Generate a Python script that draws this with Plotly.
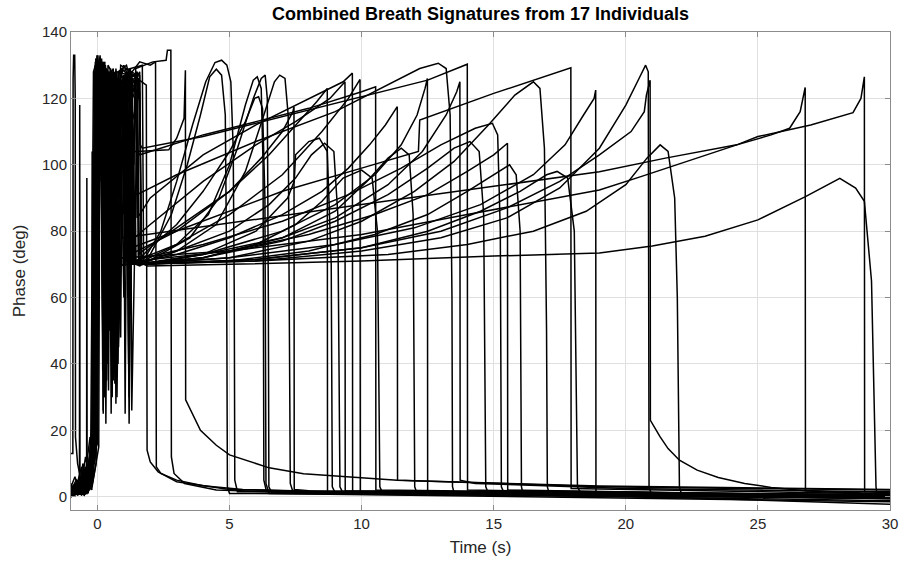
import plotly.graph_objects as go

# ---- Data (time s, phase deg) ----
# onset (chaotic start) segments, one per breath trace
onsets = [
    [(-1,1.5),(-0.8,4),(-0.6,2),(-0.45,9),(-0.3,5),(-0.15,16),(-0.04,22),(0.0,128),(0.1,131),(0.2,108),(0.27,126),(0.4,40),(0.46,124),(0.7,118),(0.78,60),(0.85,120),(1.0,124),(1.2,98),(1.28,127),(1.5,126),(1.85,124)],
    [(-1,0.5),(-0.75,3),(-0.6,1),(-0.4,6),(-0.25,3),(-0.1,14),(0.02,131),(0.1,119),(0.16,132),(0.28,30),(0.35,127),(0.6,122),(0.66,45),(0.72,125),(0.95,118),(1.05,70),(1.12,126),(1.6,131),(2.0,130),(2.2,131)],
    [(-1,1),(-0.8,1),(-0.65,5),(-0.45,2),(-0.3,12),(-0.15,8),(0.0,128),(0.15,122),(0.22,25),(0.3,126),(0.5,116),(0.58,45),(0.66,124),(0.9,120),(1.0,85),(1.08,128),(1.3,126),(1.38,100),(1.45,129),(2.1,131),(2.6,131.5),(2.65,134.5),(2.78,134.5)],
    [(-1,13),(-0.93,13),(-0.92,126),(-0.9,133),(-0.86,133),(-0.84,120),(-0.83,18),(-0.75,10),(-0.6,4),(-0.45,12),(-0.3,6),(-0.2,20),(-0.1,14),(-0.05,132),(0.08,120),(0.15,128),(0.25,36),(0.33,129),(0.55,112),(0.62,124),(0.9,106),(1.0,60),(1.08,120),(1.2,104)],
    [(-1,0),(-0.8,2),(-0.6,1),(-0.45,7),(-0.2,3),(-0.05,30),(0.05,130),(0.18,112),(0.26,128),(0.42,32),(0.5,127),(0.7,96),(0.78,126),(1.0,122),(1.08,75),(1.15,70.5)],
    [(-1,3),(-0.85,6),(-0.7,2),(-0.5,4),(-0.28,18),(-0.12,10),(-0.08,125),(0.02,133),(0.15,100),(0.22,126),(0.35,40),(0.42,122),(0.62,85),(0.72,125),(0.95,120),(1.05,72),(1.15,70)],
    [(-1,0.5),(-0.68,1),(-0.67,118),(-0.66,2),(-0.5,6),(-0.3,2),(-0.15,25),(-0.08,130),(0.1,123),(0.2,65),(0.3,125),(0.5,118),(0.56,30),(0.64,121),(0.85,126),(0.92,70),(1.0,69.5)],
    [(-1,2),(-0.85,0.5),(-0.6,5),(-0.45,1),(-0.35,3),(-0.1,15),(0.0,40),(0.06,129),(0.2,127),(0.27,30),(0.35,125),(0.6,128),(0.75,110),(0.82,128),(1.15,124),(1.25,55),(1.32,118),(1.45,70)],
    [(-1,1),(-0.85,4),(-0.7,2),(-0.55,10),(-0.4,5),(-0.2,12),(-0.02,133),(0.12,125),(0.2,80),(0.27,130),(0.45,122),(0.52,25),(0.6,120),(0.85,118),(1.05,126),(1.15,60),(1.22,124),(1.38,70)],
    [(-1,0),(-0.7,3),(-0.55,1),(-0.41,1),(-0.4,96),(-0.39,3),(-0.2,8),(-0.05,22),(0.1,131),(0.3,128),(0.35,35),(0.44,127),(0.7,119),(0.78,90),(0.86,127),(1.3,125),(1.38,71)],
    [(-1,4),(-0.85,1),(-0.7,6),(-0.6,9),(-0.45,2),(-0.35,4),(-0.25,18),(-0.15,128),(0.0,132),(0.12,108),(0.2,130),(0.38,60),(0.45,120),(0.62,126),(0.72,100),(0.85,72)],
    [(-1,1),(-0.8,3),(-0.6,0.5),(-0.4,7),(-0.21,2),(-0.2,104),(-0.19,4),(-0.05,10),(0.08,126),(0.25,128),(0.32,22),(0.4,124),(0.55,120),(0.62,68),(0.75,122),(0.85,95),(1.1,126),(1.4,122),(1.5,128),(1.56,70)],
    [(-1,0.5),(-0.75,3),(-0.5,0.5),(-0.25,4),(-0.1,30),(-0.05,131),(0.15,127),(0.22,42),(0.3,130),(0.5,115),(0.62,126),(0.8,110),(0.88,130),(1.5,127),(1.58,73)],
    [(-1,2),(-0.8,5),(-0.6,3),(-0.35,9),(-0.15,18),(-0.05,55),(0.0,128),(0.2,118),(0.3,128),(0.45,80),(0.52,125),(0.7,112),(0.78,40),(0.86,100),(1.1,125),(1.2,22),(1.3,110),(1.42,70)],
    [(-1,1),(-0.7,1.5),(-0.5,8),(-0.3,6),(-0.1,11),(0.04,128),(0.16,121),(0.24,131),(0.4,118),(0.48,65),(0.56,125),(0.8,122),(0.88,48),(0.95,120),(1.2,124),(1.28,78)],
    [(-1,0),(-0.8,2),(-0.6,0.5),(-0.4,2),(-0.2,12),(-0.12,124),(0.0,130),(0.14,95),(0.2,128),(0.36,124),(0.45,50),(0.52,122),(0.75,115),(1.0,127),(1.3,120),(1.45,126),(1.5,84)],
    [(-1,3),(-0.7,1),(-0.55,8),(-0.4,7),(-0.15,14),(0.02,90),(0.06,130),(0.25,126),(0.33,62),(0.42,127),(0.62,120),(0.7,28),(0.78,110),(1.0,124),(1.25,118),(1.3,26),(1.4,70)],
    [(-1,0.5),(-0.75,5),(-0.5,2),(-0.22,5),(-0.1,35),(-0.06,132),(0.1,118),(0.18,126),(0.3,88),(0.38,128),(0.55,122),(0.6,35),(0.68,115),(0.9,124),(1.1,120),(1.18,40),(1.25,110),(1.33,70)],
    [(-1,1),(-0.8,2),(-0.6,3),(-0.45,1),(-0.3,11),(-0.12,20),(0.0,129),(0.16,124),(0.26,70),(0.34,129),(0.52,126),(0.62,110),(0.72,128),(1.2,127),(1.4,125),(1.5,104)],
    [(-1,0),(-0.75,1),(-0.55,1),(-0.4,5),(-0.25,6),(-0.05,18),(0.02,127),(0.2,131),(0.3,45),(0.38,120),(0.58,128),(0.68,75),(0.75,121),(1.0,126),(1.08,72)],
    [(-1,2),(-0.6,5),(-0.3,2),(-0.15,10),(-0.02,28),(0.05,129),(0.22,120),(0.3,33),(0.4,118),(0.6,126),(0.7,88),(0.8,122),(1.2,126),(1.5,122),(1.55,72)],
    [(-1,0),(-0.6,2),(-0.45,6),(-0.3,4),(-0.12,20),(-0.02,130),(0.18,128),(0.25,75),(0.35,126),(0.5,122),(0.58,92),(0.66,127),(0.85,124),(1.3,128),(1.36,71)],
    [(-1,1),(-0.7,4),(-0.5,1),(-0.2,8),(0.0,24),(0.05,131),(0.24,126),(0.32,90),(0.4,130),(0.6,127),(0.68,100),(0.78,128),(1.1,130),(1.3,124),(1.36,92)],
    [(-1,3),(-0.6,3.5),(-0.3,7),(-0.08,15),(0.0,125),(0.1,133),(0.3,110),(0.36,50),(0.45,122),(0.62,128),(0.7,60),(0.8,115),(1.1,126),(1.2,30),(1.28,112),(1.6,122),(1.66,70)],
    [(-1,0),(-0.7,2),(-0.4,1),(-0.18,12),(-0.1,128),(0.06,130),(0.15,112),(0.25,127),(0.42,120),(0.5,100),(0.6,128),(0.8,112),(1.2,128),(1.55,126),(1.62,106)],
    [(-1,1),(-0.5,2),(-0.28,9),(-0.08,35),(0.0,130),(0.2,125),(0.28,58),(0.36,124),(0.6,122),(0.7,40),(0.78,118),(1.0,121),(1.08,72)],
    [(-1,0.5),(-0.6,1),(-0.45,7),(-0.3,4),(-0.1,20),(-0.03,128),(0.16,125),(0.25,82),(0.3,128),(0.55,124),(0.65,60),(0.72,120),(1.0,130),(1.3,124),(1.6,128),(1.65,72)],
    [(-1,2),(-0.8,1),(-0.5,4),(-0.25,10),(0.0,16),(0.08,126),(0.28,131),(0.4,72),(0.47,125),(0.72,122),(0.8,45),(0.88,72)],
    [(-1,0),(-0.6,4),(-0.35,1),(-0.12,14),(-0.06,127),(0.1,130),(0.22,40),(0.3,128),(0.5,126),(0.6,105),(0.7,129),(0.85,112),(1.2,125),(1.4,120),(1.46,70)],
    [(-1,1),(-0.7,3),(-0.4,2),(-0.2,22),(-0.08,131),(0.08,115),(0.16,126),(0.3,55),(0.38,120),(0.6,125),(0.68,98),(0.9,125),(1.25,129),(1.32,70)],
    [(-1,0),(-0.65,3),(-0.5,2),(-0.26,5),(-0.05,32),(0.02,130),(0.2,127),(0.3,102),(0.38,128),(0.56,124),(0.64,70),(0.7,120),(1.1,128),(1.18,74)],
    [(-1,2),(-0.65,1),(-0.35,8),(-0.12,26),(-0.04,129),(0.14,124),(0.22,26),(0.3,122),(0.5,129),(0.6,118),(0.7,123),(0.98,126),(1.05,25),(1.12,118),(1.25,70)],
    [(-1,0.5),(-0.7,3),(-0.5,0.5),(-0.2,3),(0.05,15),(0.1,132),(0.3,127),(0.38,64),(0.46,125),(0.7,126),(0.8,48),(0.9,118),(1.1,120),(1.18,70)],
    [(-1,1),(-0.45,3),(-0.22,8),(-0.08,12),(0.0,126),(0.18,131),(0.28,90),(0.36,127),(0.56,123),(0.66,34),(0.74,118),(1.0,124),(1.5,128),(1.58,70)],
    [(-1,0),(-0.8,3),(-0.6,1),(-0.3,5),(-0.1,22),(0.04,131),(0.22,122),(0.3,70),(0.4,126),(0.6,129),(0.7,84),(0.8,120),(1.15,124),(1.22,70)],
    [(-1,2),(-0.75,0.5),(-0.4,2),(-0.15,15),(-0.06,129),(0.12,127),(0.2,38),(0.28,120),(0.46,126),(0.56,90),(0.64,128),(0.84,110),(0.9,129),(1.3,126),(1.35,72)],
    [(-1,0.5),(-0.55,2),(-0.28,6),(-0.1,28),(0.0,130),(0.2,128),(0.28,96),(0.36,126),(0.55,124),(0.62,66),(0.7,117),(0.92,78)],
    [(-1,1),(-0.6,1),(-0.3,9),(-0.12,17),(0.02,128),(0.2,124),(0.3,52),(0.38,127),(0.62,125),(0.72,95),(0.8,128),(1.7,130),(1.75,70)],
    [(-1,0),(-0.7,5),(-0.5,1),(-0.2,4),(0.0,20),(0.08,127),(0.26,124),(0.34,86),(0.42,128),(0.65,122),(0.74,30),(0.84,95),(1.2,125),(1.6,127),(1.68,70)],
]

# main rise (ramp) up to the end-of-breath drop
ramps = [
    [],
    [],
    [],
    [(1.5,104),(2.2,104.3),(2.7,104.5),(3.0,108),(3.2,112),(3.28,114),(3.33,128.5)],
    [(1.3,70.5),(1.8,72),(2.4,80),(3.0,95),(3.6,112),(4.1,125),(4.45,130.8),(4.7,131.5),(4.9,130),(5.05,125),(5.14,105),(5.18,60),(5.2,5)],
    [(1.3,70),(2.0,73),(2.8,85),(3.4,100),(3.9,115),(4.25,126.5),(4.5,128.8),(4.7,127),(4.84,115),(4.89,70),(4.92,3)],
    [(1.1,70),(3.0,76),(4.2,85),(5.0,100),(5.6,118),(5.9,125.5),(6.05,126.5),(6.2,123),(6.27,100),(6.3,5)],
    [(1.6,69.5),(3.5,78),(4.6,90),(5.3,105),(5.9,120),(6.2,126),(6.35,127),(6.43,120),(6.47,60),(6.49,3)],
    [(1.5,70),(3.0,74),(4.5,82),(5.6,98),(6.3,115),(6.7,125),(6.9,127),(7.1,126),(7.22,115),(7.27,60),(7.3,4)],
    [(1.5,71),(2.0,75),(3.0,82),(4.0,92),(5.0,104),(5.6,113),(5.95,120),(6.1,120.5),(6.25,117),(6.34,90),(6.38,4)],
    [(1.0,72),(3.0,80),(5.0,92),(6.2,102),(7.0,110),(7.4,116),(7.44,117.5)],
    [(1.7,70),(4.0,73),(6.0,80),(7.2,90),(7.45,95),(7.5,103),(8.0,107),(8.4,108),(8.7,104),(8.85,70),(8.89,3)],
    [(1.7,74),(3.0,81),(5.0,92),(6.5,103),(7.5,112),(8.3,119),(8.7,123)],
    [(1.6,70),(3.0,74),(5.0,80),(6.5,88),(7.5,96),(8.1,103),(8.6,106.5),(8.95,104),(9.1,85),(9.18,3)],
    [(1.4,78),(2.0,82),(4.0,95),(6.0,106),(7.5,113),(8.8,120),(9.37,125)],
    [(1.6,85),(2.0,90),(4.0,103),(6.0,112),(8.0,120),(9.3,125),(9.65,127.6)],
    [(1.6,70.5),(3.0,76),(5.0,85),(7.0,97),(8.5,110),(9.5,120),(9.94,125.7)],
    [(1.5,70),(4.0,72),(6.0,76),(7.5,82),(8.5,89),(9.3,96),(10.0,98.4),(10.4,96),(10.6,80),(10.69,3)],
    [(1.6,103),(2.0,104),(4.0,109),(6.0,113),(8.0,117),(10.0,122),(10.53,123.5)],
    [(1.2,70),(3.0,73),(5.0,78),(7.0,85),(8.5,92),(9.5,99),(10.3,106),(10.9,112),(11.35,117.5)],
    [(1.7,70),(4.0,72),(7.0,78),(9.0,86),(10.2,95),(11.0,102),(11.5,105),(11.8,103),(11.95,85),(12.01,3)],
    [(1.5,70),(4.0,73),(7.0,80),(9.0,88),(10.5,97),(11.5,106),(12.1,115),(12.4,123),(12.49,126)],
    [(1.5,91),(3.0,97),(6.0,107),(9.0,116),(11.0,124),(12.2,129),(12.9,130.6),(13.2,129),(13.35,115),(13.42,60),(13.44,3)],
    [(1.8,70),(4.0,73),(7.0,78),(9.0,84),(11.0,94),(12.3,104),(13.2,115),(13.6,122),(13.72,125)],
    [(1.7,105),(4.0,108.5),(7.0,114.5),(10.0,120.5),(12.5,125.5),(14.0,130.3)],
    [(1.2,70),(4.0,72),(7.0,77),(9.0,83),(11.0,91),(12.5,99),(13.5,105),(14.1,107),(14.45,104),(14.62,85),(14.7,3)],
    [(1.8,72),(4.0,76),(7.0,83),(9.5,91),(11.5,99),(13.0,106),(14.3,111),(14.95,112.5),(15.15,109),(15.25,80),(15.29,3)],
    [(1.0,72),(5.0,74),(8.0,79),(10.5,85),(12.5,91),(14.0,98),(15.0,103),(15.52,106.5)],
    [(1.6,70),(5.0,72),(8.0,77),(10.0,83),(12.0,92),(13.5,101),(14.8,112),(15.8,121),(16.5,125),(16.75,123),(16.92,105),(17.0,50),(17.03,3)],
    [(1.45,70),(6.0,71.5),(10.0,75),(12.5,80),(14.5,86),(16.0,92),(17.0,97),(17.4,98),(17.8,96),(18.05,80),(18.17,3)],
    [(1.3,75),(4.0,83),(7.0,92),(10.0,99),(12.15,104),(12.2,113.5),(15.0,121.5),(17.92,129.2)],
    [(1.4,70),(5.0,72),(9.0,76),(12.0,81),(14.5,88),(16.5,97),(17.7,106),(18.4,115),(18.8,120),(18.86,122.5)],
    [(1.3,70),(6.0,71),(10.0,74),(13.0,78),(15.5,84),(17.5,93),(19.0,105),(20.0,118),(20.5,126),(20.75,130),(20.85,128),(20.88,3)],
    [(1.7,70),(6.0,71.5),(10.0,75),(13.0,80),(15.5,87),(17.5,95),(19.0,103),(20.2,110),(20.7,116),(20.78,121),(20.92,125.5)],
    [(1.35,70),(6.0,71),(11.0,73),(14.0,76),(16.5,80),(18.5,86),(20.0,94),(20.8,102),(21.3,106),(21.6,104),(21.85,90),(21.95,60),(22.03,3)],
    [(1.5,71),(5.0,74),(10.0,79),(14.0,85),(17.0,89.5),(19.0,92.4),(20.6,96.5),(22.5,101.5),(24.2,106),(25.5,109),(26.2,111),(26.6,116),(26.79,123.3)],
    [(1.0,78),(5.0,82.5),(10.0,88),(15.0,93.5),(19.0,97.9),(21.5,102),(24.2,106),(25.0,108.5),(27.0,112),(28.6,115.7),(28.9,120),(29.03,126.5)],
    [(1.9,69.5),(5.0,70),(10.0,71),(15.0,72.5),(19.0,73.4),(21.0,75.5),(23.0,78.5),(25.0,83.4),(26.8,90.4),(28.1,95.9),(28.7,93),(29.03,89),(29.3,65),(29.47,3)],
    [(1.8,70),(5.0,71),(8.0,74),(10.5,79),(12.5,85),(14.0,92),(15.0,97),(15.6,100),(15.85,97),(16.0,80),(16.05,3)],
]

# after-drop decay segments
tails = [
    [(1.88,14),(2.0,10.5),(2.3,7.5),(3.0,4.5),(5,2.2),(10,1.2),(30,0.4)],
    [(2.23,9),(2.4,7),(3.0,5),(4,3.3),(5.5,2.2),(10,1.3),(30,0.6)],
    [(2.8,12),(2.9,7),(3.3,4),(4.5,2),(8,1.1),(30,0.2)],
    [(3.34,29.2),(3.9,20),(4.5,15.5),(5,12.6),(6.5,8.7),(7.8,6.9),(11.35,5),(19,3),(30,2)],
    [(5.3,1.5),(30,0.3)],
    [(5.0,1.0),(30,-0.3)],
    [(6.4,1.6),(30,0.2)],
    [(6.6,1.2),(30,-0.5)],
    [(7.4,1.5),(30,0.0)],
    [(6.5,1.0),(30,-1.5)],
    [(7.45,2.2),(8,1.8),(30,0.5)],
    [(9.0,1.2),(30,-0.2)],
    [(8.71,1.5),(30,0.3)],
    [(9.3,1.0),(30,-0.4)],
    [(9.38,1.8),(30,0.6)],
    [(9.66,1.2),(30,0.0)],
    [(9.95,1.5),(30,0.2)],
    [(10.8,1.0),(30,-1.2)],
    [(10.54,2.0),(30,0.5)],
    [(11.36,5.0),(12,4.8),(19,3.2),(30,2.2)],
    [(12.1,1.0),(30,-0.3)],
    [(12.5,1.5),(30,0.4)],
    [(13.5,1.2),(30,0.0)],
    [(13.73,5.0),(14.3,4.0),(20,2.5),(30,1.5)],
    [(14.01,2.0),(30,0.3)],
    [(14.8,1.0),(30,-0.5)],
    [(15.4,1.0),(30,-0.2)],
    [(15.53,2.0),(30,0.2)],
    [(17.1,1.0),(30,-0.3)],
    [(18.3,1.0),(30,-0.6)],
    [(17.93,2.5),(30,0.8)],
    [(18.87,1.5),(30,0.0)],
    [(20.95,1.2),(30,-0.2)],
    [(20.93,23),(21.3,18),(21.6,14.5),(22.03,11),(22.7,8),(23.5,5.8),(24.5,4),(25.5,2.8),(26.8,1.8),(30,0.8)],
    [(22.1,1.0),(30,-0.4)],
    [(26.8,1.8),(30,0.5)],
    [(29.04,1.5),(30,1.2)],
    [(29.5,1.0),(30,0.8)],
    [(16.1,1.2),(30,-2.3)],
]

x_ticks = [0, 5, 10, 15, 20, 25, 30]
y_ticks = [0, 20, 40, 60, 80, 100, 120, 140]

fig = go.Figure()
for o, r, t in zip(onsets, ramps, tails):
    pts = o + r + t
    fig.add_trace(go.Scatter(
        x=[p[0] for p in pts], y=[p[1] for p in pts],
        mode="lines", line=dict(color="black", width=1.5),
        hoverinfo="skip", showlegend=False))

font_family = "Liberation Sans, Arial, Helvetica, sans-serif"
axis_common = dict(
    showgrid=True, gridcolor="#e0e0e0", gridwidth=1,
    showline=True, linecolor="#8c8c8c", linewidth=1, mirror="ticks",
    ticks="inside", ticklen=5, tickcolor="#8c8c8c", automargin=False,
    zeroline=False, tickfont=dict(size=15, color="#262626", family=font_family),
)
fig.update_layout(
    width=901, height=563,
    margin=dict(l=71, r=11, t=32, b=53, autoexpand=False),
    plot_bgcolor="white", paper_bgcolor="white",
    font=dict(family=font_family, color="#262626"),
    showlegend=False,
    title=dict(text="<b>Combined Breath Signatures from 17 Individuals</b>",
               x=0.5, xref="paper", xanchor="center",
               y=1 - 14 / 563, yref="container", yanchor="middle",
               font=dict(size=18, color="black", family=font_family)),
)
fig.update_xaxes(range=[-1, 30], tickvals=x_ticks,
                 title=dict(text="Time (s)", font=dict(size=17, color="#262626"), standoff=10),
                 **axis_common)
fig.update_yaxes(range=[-4, 140], tickvals=y_ticks,
                 title=dict(text="Phase (deg)", font=dict(size=17, color="#262626"), standoff=12),
                 **axis_common)

fig.write_html("out.html")
